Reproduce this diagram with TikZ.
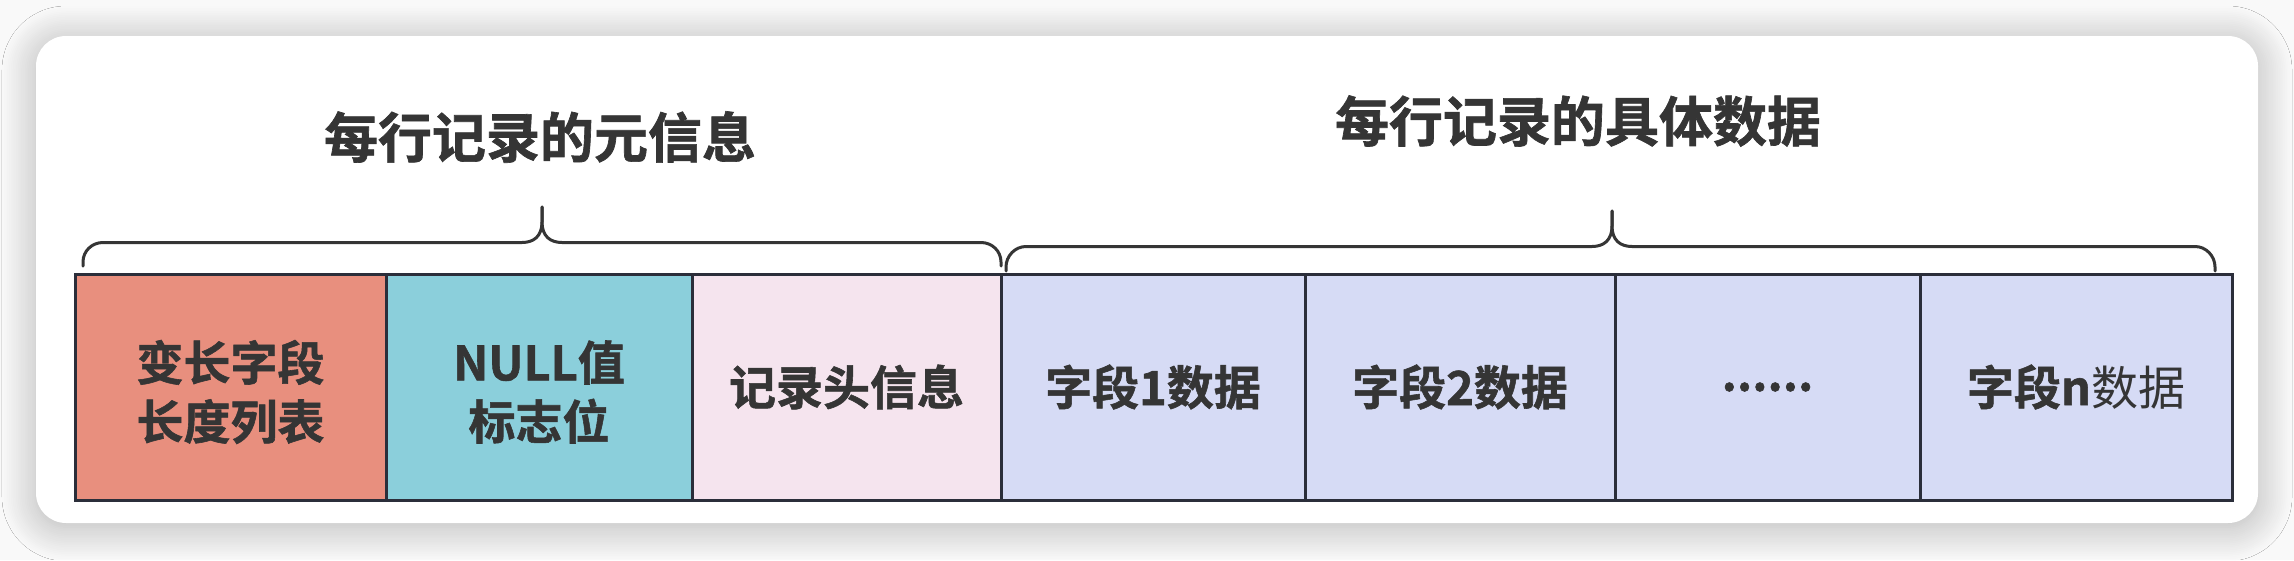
\documentclass[tikz,border=0pt]{standalone}
\usepackage{fontspec}
\setmainfont{Noto Sans CJK SC}[BoldFont={Noto Sans CJK SC Bold},BoldFeatures={FakeBold=1.2}]
\usetikzlibrary{shadows.blur}
\definecolor{bgout}{HTML}{F9F9F9}
\definecolor{edge}{HTML}{2B2E3A}
\definecolor{txt}{HTML}{353535}
\definecolor{cred}{HTML}{E88F7E}
\definecolor{cteal}{HTML}{8BCFDB}
\definecolor{cpink}{HTML}{F5E4EE}
\definecolor{cblue}{HTML}{D6DBF5}
\tikzset{
  cell/.style={draw=edge, line width=3pt, minimum height=226pt, inner sep=0pt,
    text=txt, align=center, font=\fontsize{47}{59}\selectfont\bfseries},
  celltxt/.style={text=txt, align=center, inner sep=0pt, font=\fontsize{47}{59}\selectfont\bfseries},
  title/.style={text=txt, inner sep=0pt, font=\fontsize{54}{60}\selectfont\bfseries},
  bracel/.style={draw=txt, line width=3pt, line cap=round}
}
\begin{document}
\begin{tikzpicture}[x=1pt,y=-1pt]
\useasboundingbox (0,0) rectangle (2294,560);
\fill[bgout] (0,0) rectangle (2294,560);
\fill[white, rounded corners=30pt,
  blur shadow={shadow xshift=0pt, shadow yshift=-4pt, shadow blur radius=34pt, shadow opacity=28, shadow blur steps=20}]
  (36,36) rectangle (2258,523);

% titles
\node[title] (t1) at (540,137) {每行记录的元信息};
\node[title] (t2) at (1578,121) {每行记录的具体数据};

% cells
\node[cell, fill=cred,  minimum width=311pt] (c1) at (230.5,387) {};
\node[cell, fill=cteal, minimum width=306pt] (c2) at (539,387) {};
\node[cell, fill=cpink, minimum width=309pt] (c3) at (846.5,387) {记录头信息};
\node[cell, fill=cblue, minimum width=304pt] (c4) at (1153,387) {字段1数据};
\node[cell, fill=cblue, minimum width=310pt] (c5) at (1460,387) {字段2数据};
\node[cell, fill=cblue, minimum width=305pt] (c6) at (1767.5,387) {......};
\node[cell, fill=cblue, minimum width=312pt] (c7) at (2076,387) {字段n{\mdseries 数据}};
\node[celltxt] (c1t) at ([yshift=-5pt]c1.center) {变长字段\\长度列表};
\node[celltxt] (c2t) at ([yshift=-5pt]c2.center) {NULL值\\标志位};

% brace 1
\draw[bracel] (83,266) -- (83,262) .. controls (83,251) and (92,242.5) .. (103,242.5)
  -- (522,242.5) .. controls (534,242.5) and (542,236) .. (542,222) -- (542,207);
\draw[bracel] (1001,266) -- (1001,262) .. controls (1001,251) and (992,242.5) .. (981,242.5)
  -- (562,242.5) .. controls (550,242.5) and (542,236) .. (542,222) -- (542,207);
% brace 2
\draw[bracel] (1006,271) -- (1006,267) .. controls (1006,256) and (1015,246.5) .. (1026,246.5)
  -- (1592,246.5) .. controls (1604,246.5) and (1612,240) .. (1612,226) -- (1612,211);
\draw[bracel] (2215,271) -- (2215,267) .. controls (2215,256) and (2206,246.5) .. (2195,246.5)
  -- (1632,246.5) .. controls (1620,246.5) and (1612,240) .. (1612,226) -- (1612,211);
\end{tikzpicture}
\end{document}
